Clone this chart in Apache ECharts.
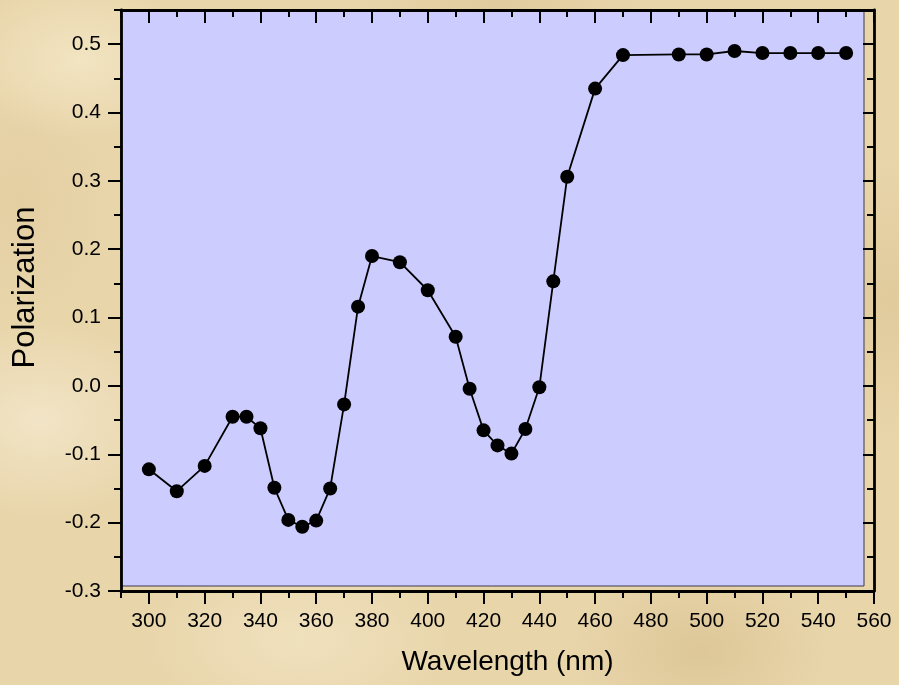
<!DOCTYPE html>
<html>
<head>
<meta charset="utf-8">
<script src="https://cdn.jsdelivr.net/npm/echarts@6/dist/echarts.min.js"></script>
<style>
html,body{margin:0;padding:0;}
body{
  width:899px;height:685px;overflow:hidden;
  background-color:#e8d5aa;
  background-image:
    radial-gradient(ellipse 120px 80px at 80px 60px, rgba(245,232,200,0.8), rgba(245,232,200,0) 100%),
    radial-gradient(ellipse 160px 90px at 300px 640px, rgba(242,228,195,0.8), rgba(242,228,195,0) 100%),
    radial-gradient(ellipse 140px 100px at 40px 420px, rgba(244,232,205,0.8), rgba(244,232,205,0) 100%),
    radial-gradient(ellipse 130px 90px at 700px 650px, rgba(214,190,140,0.6), rgba(214,190,140,0) 100%),
    radial-gradient(ellipse 100px 140px at 890px 300px, rgba(220,196,148,0.6), rgba(220,196,148,0) 100%),
    radial-gradient(ellipse 150px 60px at 500px 5px, rgba(218,194,146,0.5), rgba(218,194,146,0) 100%),
    radial-gradient(ellipse 90px 120px at 20px 200px, rgba(225,203,158,0.6), rgba(225,203,158,0) 100%);
}
#chart{width:899px;height:685px;}
</style>
</head>
<body>
<div id="chart"></div>
<script>
const wavelengths = [300,310,320,330,335,340,345,350,355,360,365,370,375,380,390,400,410,415,420,425,430,435,440,445,450,460,470,490,500,510,520,530,540,550];
const polarization = [-0.122,-0.154,-0.117,-0.045,-0.045,-0.062,-0.149,-0.196,-0.206,-0.197,-0.150,-0.027,0.116,0.190,0.181,0.140,0.072,-0.004,-0.065,-0.087,-0.099,-0.063,-0.002,0.153,0.306,0.435,0.484,0.485,0.485,0.490,0.487,0.487,0.487,0.487];

const xMajorTicks = [300,320,340,360,380,400,420,440,460,480,500,520,540,560];
const xMinorTicks = [290,310,330,350,370,390,410,430,450,470,490,510,530,550];
const yMajorTicks = [-0.3,-0.2,-0.1,0.0,0.1,0.2,0.3,0.4,0.5];
const yMinorTicks = [-0.25,-0.15,-0.05,0.05,0.15,0.25,0.35,0.45,0.55];

const xMin = 290, xMax = 560, yMin = -0.3, yMax = 0.55;

const chart = echarts.init(document.getElementById('chart'), null, {renderer:'canvas'});
const FONT = "'Liberation Sans', Arial, sans-serif";
const lineCol = '#000';

function xAxisDef(pos, ticks, len, inside, showLine, labels, name){
  return {
    type:'value', position:pos, min:xMin, max:xMax, z:10,
    splitLine:{show:false},
    axisLine:{show:showLine, onZero:false, lineStyle:{color:lineCol, width:2.8}},
    axisTick:{show:true, inside:inside, length:len, customValues:ticks, lineStyle:{color:lineCol, width:2}},
    axisLabel:{show:labels, customValues:ticks, margin:20, color:'#000', fontSize:21, fontFamily:FONT},
    name: name || '', nameLocation:'middle', nameGap:57,
    nameTextStyle:{color:'#000', fontSize:28, fontFamily:FONT, padding:[0,0,0,20]}
  };
}
function yAxisDef(pos, ticks, len, inside, showLine, labels, name){
  return {
    type:'value', position:pos, min:yMin, max:yMax, z:10,
    splitLine:{show:false},
    axisLine:{show:showLine, onZero:false, lineStyle:{color:lineCol, width:2.8}},
    axisTick:{show:true, inside:inside, length:len, customValues:ticks, lineStyle:{color:lineCol, width:2}},
    axisLabel:{show:labels, customValues:ticks, margin:20, color:'#000', fontSize:21, fontFamily:FONT,
      formatter:v=>Number(v).toFixed(1)},
    name: name || '', nameLocation:'middle', nameGap:80, nameRotate:90,
    nameTextStyle:{color:'#000', fontSize:31, fontFamily:FONT, padding:[0,0,0,26]}
  };
}

const option = {
  backgroundColor:'transparent',
  animation:false,
  grid:{left:121, top:10, width:753, height:581, containLabel:false},
  graphic:[{
    type:'rect', z:0, silent:true,
    shape:{x:121, y:10, width:743, height:576},
    style:{fill:'#ccccff', stroke:'#3a3a50', lineWidth:1}
  }],
  xAxis:[
    xAxisDef('bottom', xMajorTicks, 13, false, true, true, 'Wavelength (nm)'),
    xAxisDef('bottom', xMinorTicks, 7, false, false, false),
    xAxisDef('top', xMajorTicks, 13, true, true, false),
    xAxisDef('top', xMinorTicks, 7, true, false, false)
  ],
  yAxis:[
    yAxisDef('left', yMajorTicks, 13, false, true, true, 'Polarization'),
    yAxisDef('left', yMinorTicks, 7, false, false, false),
    yAxisDef('right', yMajorTicks, 11, true, true, false),
    yAxisDef('right', yMinorTicks, 7, true, false, false)
  ],
  series:[{
    type:'line', xAxisIndex:0, yAxisIndex:0, z:5,
    data: wavelengths.map((w,i)=>[w, polarization[i]]),
    symbol:'circle', symbolSize:14,
    itemStyle:{color:'#000'},
    lineStyle:{color:'#000', width:1.8},
    emphasis:{disabled:true}
  }]
};
chart.setOption(option);
</script>
</body>
</html>
